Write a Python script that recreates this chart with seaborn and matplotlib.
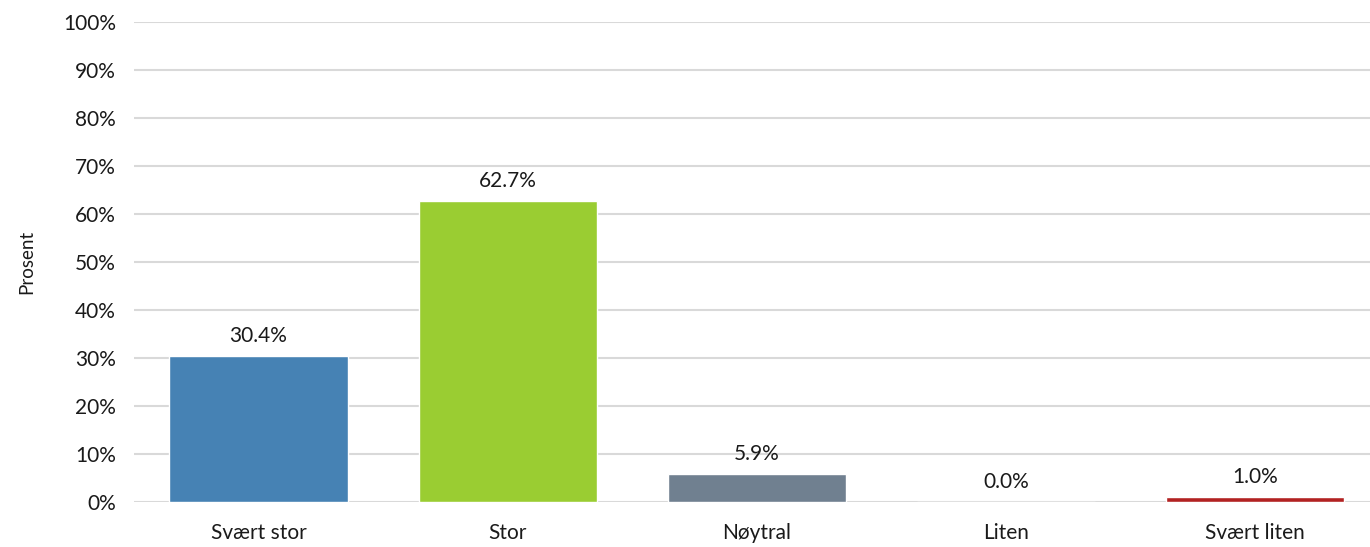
import matplotlib
matplotlib.use("Agg")
import matplotlib.pyplot as plt
import seaborn as sns
import pandas as pd
from matplotlib.ticker import PercentFormatter

categories = ["Svært stor", "Stor", "Nøytral", "Liten", "Svært liten"]
values = [30.4, 62.7, 5.9, 0.0, 1.0]
colors = ["#4682B4", "#9ACD32", "#708090", "#DAA520", "#B22222"]

sns.set_theme(style="white")
plt.rcParams['font.family'] = ['Lato', 'DejaVu Sans']

df = pd.DataFrame({"cat": categories, "val": values})

fig = plt.figure(figsize=(13.7, 5.47), dpi=100)
ax = fig.add_axes([134/1370, (547-502)/547, 1 - 134/1370, 480/547])

sns.barplot(data=df, x="cat", y="val", hue="cat", palette=colors, legend=False,
            width=0.715, ax=ax, zorder=3, saturation=1)

ax.set_ylim(0, 100)
ax.set_xlim(-0.5, 4.5 - 9.5/249)
ax.set_yticks(range(0, 101, 10))
ax.yaxis.set_major_formatter(PercentFormatter(decimals=0))
ax.grid(axis="y", color="#d9d9d9", linewidth=1.5, zorder=0)
ax.grid(axis="x", visible=False)
for s in ax.spines.values():
    s.set_visible(False)
ax.tick_params(axis="y", labelsize=15, pad=13, length=0, colors="#1a1a1a")
ax.tick_params(axis="x", labelsize=15, pad=15, length=0, colors="#1a1a1a")
ax.set_xlabel("")
ax.set_ylabel("Prosent", fontsize=13.5, color="#1a1a1a", labelpad=20)

for i, v in enumerate(values):
    ax.annotate(f"{v:.1f}%", (i, v), xytext=(0, 7), textcoords="offset points",
                ha="center", va="bottom", fontsize=15, color="#1a1a1a")

fig.savefig("out.png", dpi=100)
